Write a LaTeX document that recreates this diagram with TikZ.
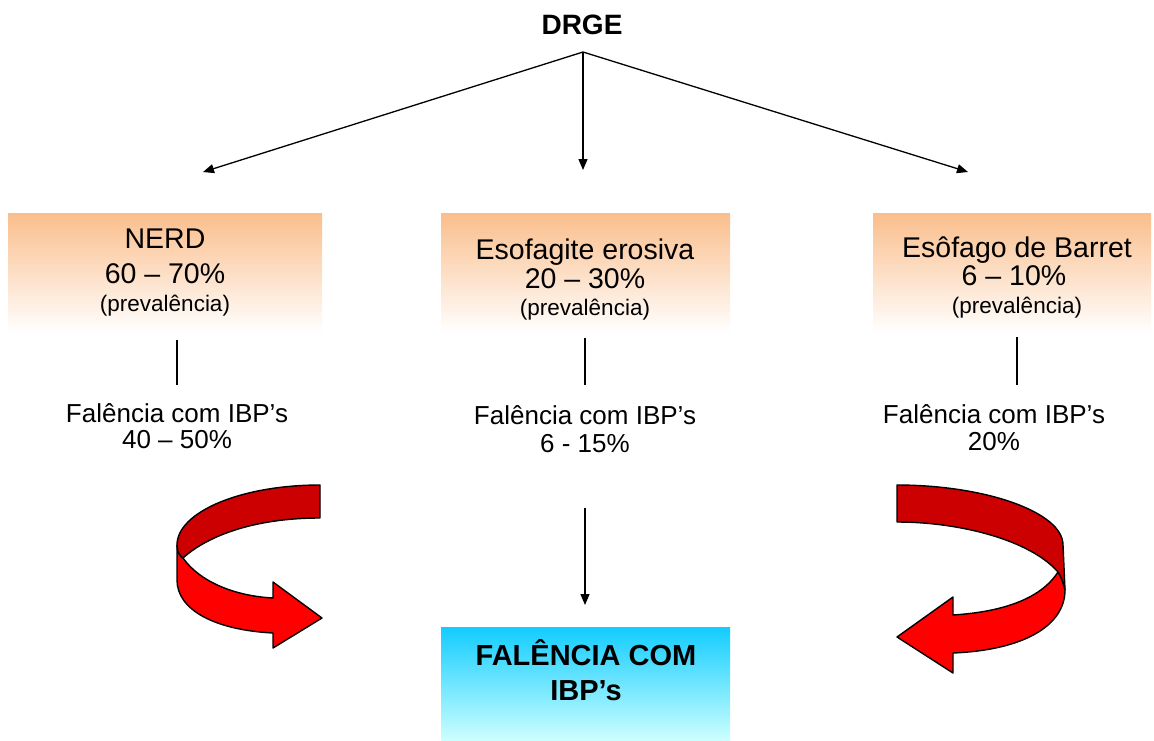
\documentclass[tikz,border=0pt]{standalone}
\usepackage{fontspec}
\setmainfont{Liberation Sans}
\usetikzlibrary{arrows.meta}

\definecolor{peach}{RGB}{250,190,140}
\definecolor{skytop}{RGB}{18,204,255}
\definecolor{skybot}{RGB}{204,255,255}
\definecolor{ribbondark}{RGB}{204,0,0}
\definecolor{ribbonlight}{RGB}{255,0,0}

\begin{document}
\begin{tikzpicture}[x=1pt,y=-1pt,
  every node/.style={inner sep=0pt, outer sep=0pt},
  tonebox/.style={draw=none, top color=peach, bottom color=white,
    anchor=north west, minimum height=120pt},
  finalbox/.style={draw=none, top color=skytop, bottom color=skybot,
    anchor=north west, minimum height=113pt, minimum width=289pt},
  bigtxt/.style={font=\fontsize{28.5}{32}\selectfont, anchor=base},
  smalltxt/.style={font=\fontsize{22.5}{26}\selectfont, anchor=base},
  midtxt/.style={font=\fontsize{26}{30}\selectfont, anchor=base},
  headtxt/.style={font=\bfseries\fontsize{28}{32}\selectfont, anchor=base},
  finaltxt/.style={font=\bfseries\fontsize{29}{33}\selectfont, anchor=base},
  link/.style={line width=1.3pt},
  arrowlink/.style={line width=1.3pt, -{Triangle[length=11pt,width=9pt]}},
  ribbon/.style={draw=black, line width=1.4pt, line join=round}
]
\useasboundingbox (0,0) rectangle (1154,740);

% top heading and its fan of arrows
\node[headtxt] (drge) at (582,34) {DRGE};
\coordinate (hub) at (583,52);
\coordinate (tipL) at (203,172);
\coordinate (tipM) at (583,170);
\coordinate (tipR) at (968,172);
\draw[arrowlink] (hub) -- (tipL);
\draw[arrowlink] (hub) -- (tipM);
\draw[arrowlink] (hub) -- (tipR);

% shaded category boxes
\node[tonebox, minimum width=314pt] (boxL) at (8,213) {};
\node[tonebox, minimum width=289pt] (boxM) at (441,213) {};
\node[tonebox, minimum width=278pt] (boxR) at (873,213) {};

% left column
\node[bigtxt] (nerd) at (165,248) {NERD};
\node[bigtxt] (nerdpct) at (165,283) {60 – 70\%};
\node[smalltxt] (nerdprev) at (165,311) {(prevalência)};
\coordinate (lineLa) at (177,340);
\coordinate (lineLb) at (177,385);
\draw[link] (lineLa) -- (lineLb);
\node[midtxt] (failL) at (177,422) {Falência com IBP’s};
\node[midtxt] (failLpct) at (177,448) {40 – 50\%};

% middle column
\node[bigtxt] (erosiva) at (585,259) {Esofagite erosiva};
\node[bigtxt] (erosivapct) at (585,288) {20 – 30\%};
\node[smalltxt] (erosivaprev) at (585,315) {(prevalência)};
\coordinate (lineMa) at (585,338);
\coordinate (lineMb) at (585,385);
\draw[link] (lineMa) -- (lineMb);
\node[midtxt] (failM) at (585,424) {Falência com IBP’s};
\node[midtxt] (failMpct) at (585,452) {6 - 15\%};

% right column
\node[bigtxt] (barret) at (1017,257) {Esôfago de Barret};
\node[bigtxt] (barretpct) at (1014,285) {6 – 10\%};
\node[smalltxt] (barretprev) at (1017,313) {(prevalência)};
\coordinate (lineRa) at (1017,337);
\coordinate (lineRb) at (1017,385);
\draw[link] (lineRa) -- (lineRb);
\node[midtxt] (failR) at (994,423) {Falência com IBP’s};
\node[midtxt] (failRpct) at (994,450) {20\%};

% final outcome box
\node[finalbox] (finalbox) at (441,627) {};
\node[finaltxt] (final1) at (586,665) {FALÊNCIA COM};
\node[finaltxt] (final2) at (586,700) {IBP’s};
\coordinate (downA) at (585,508);
\coordinate (downB) at (585,605);
\draw[arrowlink] (downA) -- (downB);

% left curved ribbon arrow: front face, then back face
\filldraw[ribbon, fill=ribbonlight] (183,558) .. controls (200,582) and (235,596) .. (273,598)
  -- (273,582) -- (322,618) -- (273,648) -- (273,633)
  .. controls (215,630) and (177,610) .. (177,580) -- (177,545)
  .. controls (177,552) and (180,556) .. (183,558) -- cycle;
\filldraw[ribbon, fill=ribbondark] (320,485) .. controls (241,485) and (177,512) .. (177,545)
  .. controls (177,552) and (180,556) .. (183,558)
  .. controls (205,538) and (250,518) .. (320,518) -- cycle;

% right curved ribbon arrow: front face, then back face
\filldraw[ribbon, fill=ribbonlight] (1058,572) .. controls (1040,600) and (1000,612) .. (953,615)
  -- (953,597) -- (897,637) -- (953,673) -- (953,653)
  .. controls (1025,650) and (1065,625) .. (1065,590)
  .. controls (1063,582) and (1061,576) .. (1058,572) -- cycle;
\filldraw[ribbon, fill=ribbondark] (897,485) .. controls (985,485) and (1063,512) .. (1063,545)
  -- (1065,590) .. controls (1063,582) and (1061,576) .. (1058,572)
  .. controls (1030,540) and (960,522) .. (897,522) -- cycle;
\end{tikzpicture}
\end{document}
